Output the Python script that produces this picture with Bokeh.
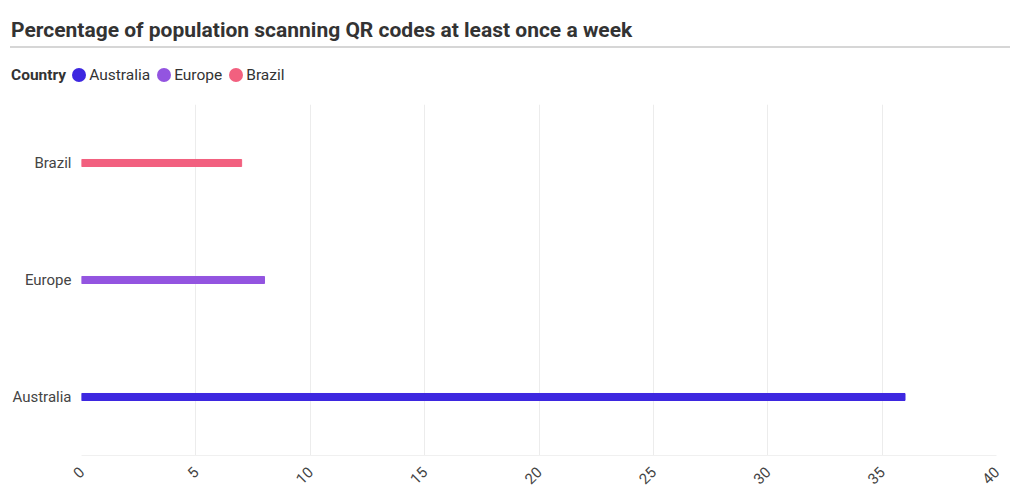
from bokeh.plotting import figure
from bokeh.models import Div, ColumnDataSource, FixedTicker
from bokeh.layouts import column
from bokeh.embed import file_html
from bokeh.resources import INLINE
from math import pi

countries = ["Australia", "Europe", "Brazil"]
values = [36, 8, 7]
colors = ["#3d27e0", "#9354e0", "#f2607f"]
x_ticks = [0, 5, 10, 15, 20, 25, 30, 35, 40]
title_text = "Percentage of population scanning QR codes at least once a week"
legend_title = "Country"

FONT = "Roboto"

legend_html = "".join(
    f'<span style="display:inline-flex;align-items:center;margin-right:7px;">'
    f'<span style="display:inline-block;width:14px;height:14px;border-radius:50%;background:{c};margin-right:3px;"></span>'
    f'<span>{n}</span></span>'
    for n, c in zip(countries, colors)
)

header = Div(
    text=(
        f'<div style="width:1000px;font-family:{FONT},sans-serif;color:#333;">'
        f'<div style="font-size:21px;font-weight:700;padding:8px 0 0 3px;height:28px;line-height:28px;">{title_text}</div>'
        f'<div style="border-top:2px solid #d6d6d6;margin:10px 0 0 2px;width:1000px;"></div>'
        f'<div style="display:flex;align-items:center;font-size:15.5px;padding:16px 0 0 3px;">'
        f'<span style="font-weight:700;margin-right:6px;">{legend_title}</span>{legend_html}</div>'
        f'</div>'
    ),
    width=1004, height=80, margin=(8, 0, 0, 8),
)

source = ColumnDataSource(dict(country=countries, value=values, color=colors))

p = figure(
    y_range=countries, x_range=(0, 40),
    width=1004, height=399,
    frame_width=915, frame_height=351,
    min_border_left=73, min_border_right=16, min_border_top=16, min_border_bottom=32,
    output_backend="svg", toolbar_location=None, margin=(0, 0, 0, 8),
)
p.hbar(y="country", left=0, right="value", height=0.06, color="color", source=source)

p.outline_line_color = None
p.xgrid.ticker = FixedTicker(ticks=x_ticks)
p.xgrid.grid_line_color = "#ececec"
p.ygrid.grid_line_color = None
p.xaxis.ticker = FixedTicker(ticks=x_ticks)
p.xaxis.major_label_orientation = pi / 4
p.xaxis.axis_line_color = "#f0f0f0"
p.xaxis.major_tick_line_color = None
p.xaxis.minor_tick_line_color = None
p.xaxis.major_label_text_font = FONT
p.xaxis.major_label_text_font_size = "15px"
p.xaxis.major_label_text_color = "#444"
p.xaxis.major_label_standoff = 8
p.yaxis.axis_line_color = None
p.yaxis.major_tick_line_color = None
p.yaxis.minor_tick_line_color = None
p.yaxis.major_label_text_font = FONT
p.yaxis.major_label_text_font_size = "15px"
p.yaxis.major_label_text_color = "#444"
p.yaxis.major_label_standoff = 4

layout = column(header, p, spacing=0)
open("out.html", "w").write(file_html(layout, INLINE))
